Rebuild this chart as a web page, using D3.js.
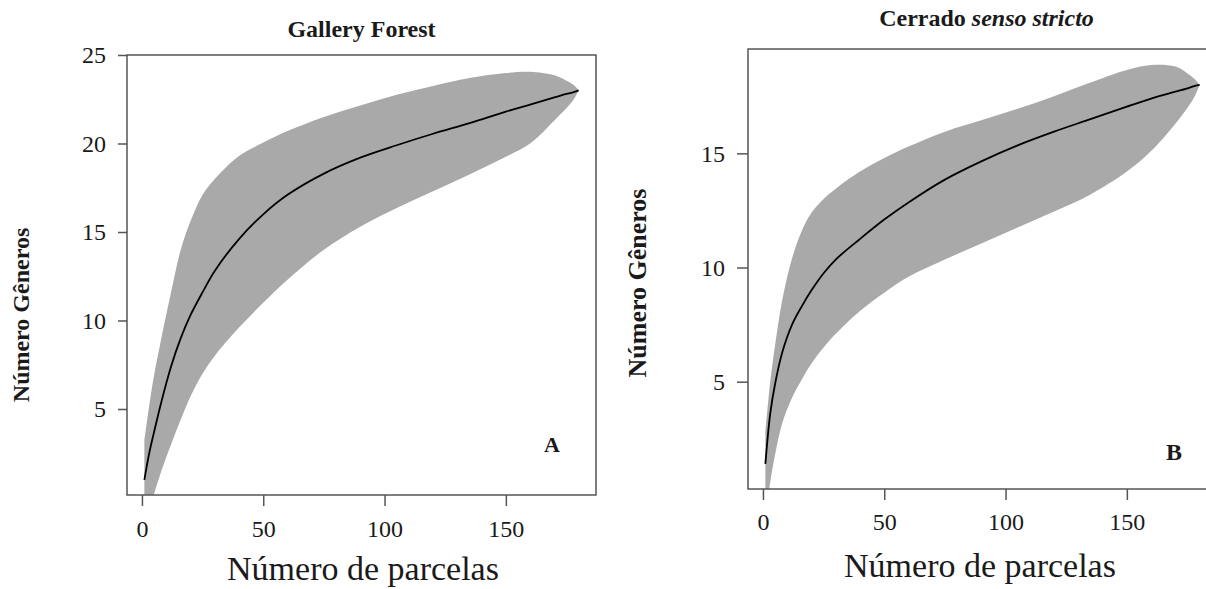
<!DOCTYPE html>
<html>
<head>
<meta charset="utf-8">
<script src="https://cdnjs.cloudflare.com/ajax/libs/d3/7.8.5/d3.min.js"></script>
<style>
  body { margin: 0; background: #fff; }
  text { font-family: "Liberation Serif", "Times New Roman", serif; fill: #1a1a1a; }
  .tick line { stroke: #555; stroke-width: 1.5; }
</style>
</head>
<body>
<div id="chart"></div>
<script>
// Data: number of plots vs rarefied number of genera
var plots = [1, 3, 5, 8, 12, 16, 20, 25, 30, 40, 50, 60, 75, 90, 105, 120, 135, 150, 160, 170, 175, 178, 180];

// Gallery Forest (A)
var galleryMean  = [1.0, 2.5, 3.7, 5.4, 7.4, 9.0, 10.3, 11.6, 12.8, 14.6, 16.0, 17.1, 18.3, 19.2, 19.9, 20.55, 21.15, 21.8, 22.2, 22.6, 22.8, 22.9, 23.0];
var galleryUpper = [3.2, 5.2, 6.9, 9.0, 11.6, 14.0, 15.6, 17.1, 18.0, 19.3, 20.05, 20.7, 21.5, 22.15, 22.75, 23.25, 23.7, 23.98, 24.05, 23.85, 23.55, 23.3, 23.0];
var galleryLower = [-1.5, -0.7, 0.2, 1.5, 3.0, 4.4, 5.7, 7.0, 8.0, 9.6, 11.0, 12.3, 14.0, 15.3, 16.35, 17.3, 18.25, 19.25, 20.0, 21.3, 22.0, 22.5, 23.0];

// Cerrado senso stricto (B)
var cerradoMean  = [1.4, 3.6, 4.9, 6.3, 7.5, 8.3, 9.0, 9.75, 10.35, 11.25, 12.1, 12.85, 13.85, 14.65, 15.35, 15.95, 16.5, 17.05, 17.4, 17.7, 17.85, 17.95, 18.0];
var cerradoUpper = [2.8, 5.0, 6.6, 8.6, 10.4, 11.6, 12.4, 13.0, 13.45, 14.2, 14.8, 15.3, 15.95, 16.45, 16.95, 17.5, 18.1, 18.65, 18.87, 18.8, 18.5, 18.25, 18.0];
var cerradoLower = [-1.0, 0.6, 1.8, 3.2, 4.3, 5.1, 5.8, 6.5, 7.1, 8.1, 8.9, 9.6, 10.35, 11.05, 11.75, 12.45, 13.2, 14.2, 15.1, 16.3, 17.0, 17.5, 18.0];

var xTicks = [0, 50, 100, 150];
var galleryYTicks = [5, 10, 15, 20, 25];
var cerradoYTicks = [5, 10, 15];

var svgWidth = 1206;
var svgHeight = 589;

var svg = d3.select("#chart")
    .append("svg")
    .attr("width", svgWidth)
    .attr("height", svgHeight);

// One panel = box, band, mean curve, axes and labels
function drawPanel(p) {
    var x = d3.scaleLinear().domain([-6.16, 187.16]).range([p.left, p.right]);
    var y = d3.scaleLinear().domain(p.yDomain).range([p.bottom, p.top]);

    var rows = plots.map(function (d, i) {
        return { n: d, mean: p.mean[i], upper: p.upper[i], lower: p.lower[i] };
    });

    var clipId = "clip-" + p.id;
    svg.append("clipPath")
        .attr("id", clipId)
        .append("rect")
        .attr("x", p.left)
        .attr("y", p.top)
        .attr("width", p.right - p.left)
        .attr("height", p.bottom - p.top);

    var g = svg.append("g").attr("clip-path", "url(#" + clipId + ")");

    var band = d3.area()
        .x(function (d) { return x(d.n); })
        .y0(function (d) { return y(d.lower); })
        .y1(function (d) { return y(d.upper); })
        .curve(d3.curveCatmullRom);

    g.append("path")
        .datum(rows)
        .attr("d", band)
        .attr("fill", "#a9a9a9");

    var line = d3.line()
        .x(function (d) { return x(d.n); })
        .y(function (d) { return y(d.mean); })
        .curve(d3.curveCatmullRom);

    g.append("path")
        .datum(rows)
        .attr("d", line)
        .attr("fill", "none")
        .attr("stroke", "#000")
        .attr("stroke-width", 1.8);

    // box
    svg.append("rect")
        .attr("x", p.left)
        .attr("y", p.top)
        .attr("width", p.right - p.left)
        .attr("height", p.bottom - p.top)
        .attr("fill", "none")
        .attr("stroke", "#555")
        .attr("stroke-width", 1.5);

    // axes
    var xAxis = svg.append("g")
        .attr("transform", `translate(0, ${p.bottom})`)
        .call(d3.axisBottom(x).tickValues(xTicks).tickSize(11).tickFormat(d3.format("d")));
    xAxis.select(".domain").remove();
    xAxis.selectAll("text")
        .attr("dy", null)
        .attr("y", p.xTickBase)
        .attr("font-size", 24);

    var yAxis = svg.append("g")
        .attr("transform", `translate(${p.left}, 0)`)
        .call(d3.axisLeft(y).tickValues(p.yTicks).tickSize(p.yTickSize).tickPadding(12));
    yAxis.select(".domain").remove();
    yAxis.selectAll("text")
        .attr("font-size", 24);

    // titles and labels
    var title = svg.append("text")
        .attr("x", (p.left + p.right) / 2 + p.titleShift)
        .attr("y", p.titleY)
        .attr("text-anchor", "middle")
        .attr("font-size", p.titleSize)
        .attr("font-weight", "bold");
    p.title.forEach(function (t) {
        title.append("tspan").attr("font-style", t.italic ? "italic" : "normal").text(t.text);
    });

    svg.append("text")
        .attr("transform", `translate(${p.yLabelX}, ${p.yLabelY}) rotate(-90)`)
        .attr("text-anchor", "middle")
        .attr("font-size", p.yLabelSize)
        .attr("font-weight", "bold")
        .text("Número Gêneros");

    svg.append("text")
        .attr("x", p.xLabelX)
        .attr("y", p.xLabelY)
        .attr("text-anchor", "middle")
        .attr("font-size", 34)
        .text("Número de parcelas");

    svg.append("text")
        .attr("x", p.tagX)
        .attr("y", p.tagY)
        .attr("text-anchor", "middle")
        .attr("font-size", p.tagSize)
        .attr("font-weight", "bold")
        .text(p.tag);
}

drawPanel({
    id: "a", left: 127, right: 596, top: 55, bottom: 495,
    yDomain: [0.14, 25], yTicks: galleryYTicks, yTickSize: 9, xTickBase: 42,
    mean: galleryMean, upper: galleryUpper, lower: galleryLower,
    title: [{ text: "Gallery Forest" }], titleY: 37, titleSize: 24, titleShift: 0,
    yLabelX: 29, yLabelY: 315, yLabelSize: 24,
    xLabelX: 363, xLabelY: 580,
    tag: "A", tagX: 552, tagY: 452, tagSize: 22
});

drawPanel({
    id: "b", left: 748, right: 1217, top: 49, bottom: 489,
    yDomain: [0.30, 19.57], yTicks: cerradoYTicks, yTickSize: 11, xTickBase: 41,
    mean: cerradoMean, upper: cerradoUpper, lower: cerradoLower,
    title: [{ text: "Cerrado " }, { text: "senso stricto", italic: true }], titleY: 26, titleSize: 24, titleShift: 4,
    yLabelX: 646, yLabelY: 283, yLabelSize: 26,
    xLabelX: 980, xLabelY: 577,
    tag: "B", tagX: 1174, tagY: 460, tagSize: 24
});
</script>
</body>
</html>
